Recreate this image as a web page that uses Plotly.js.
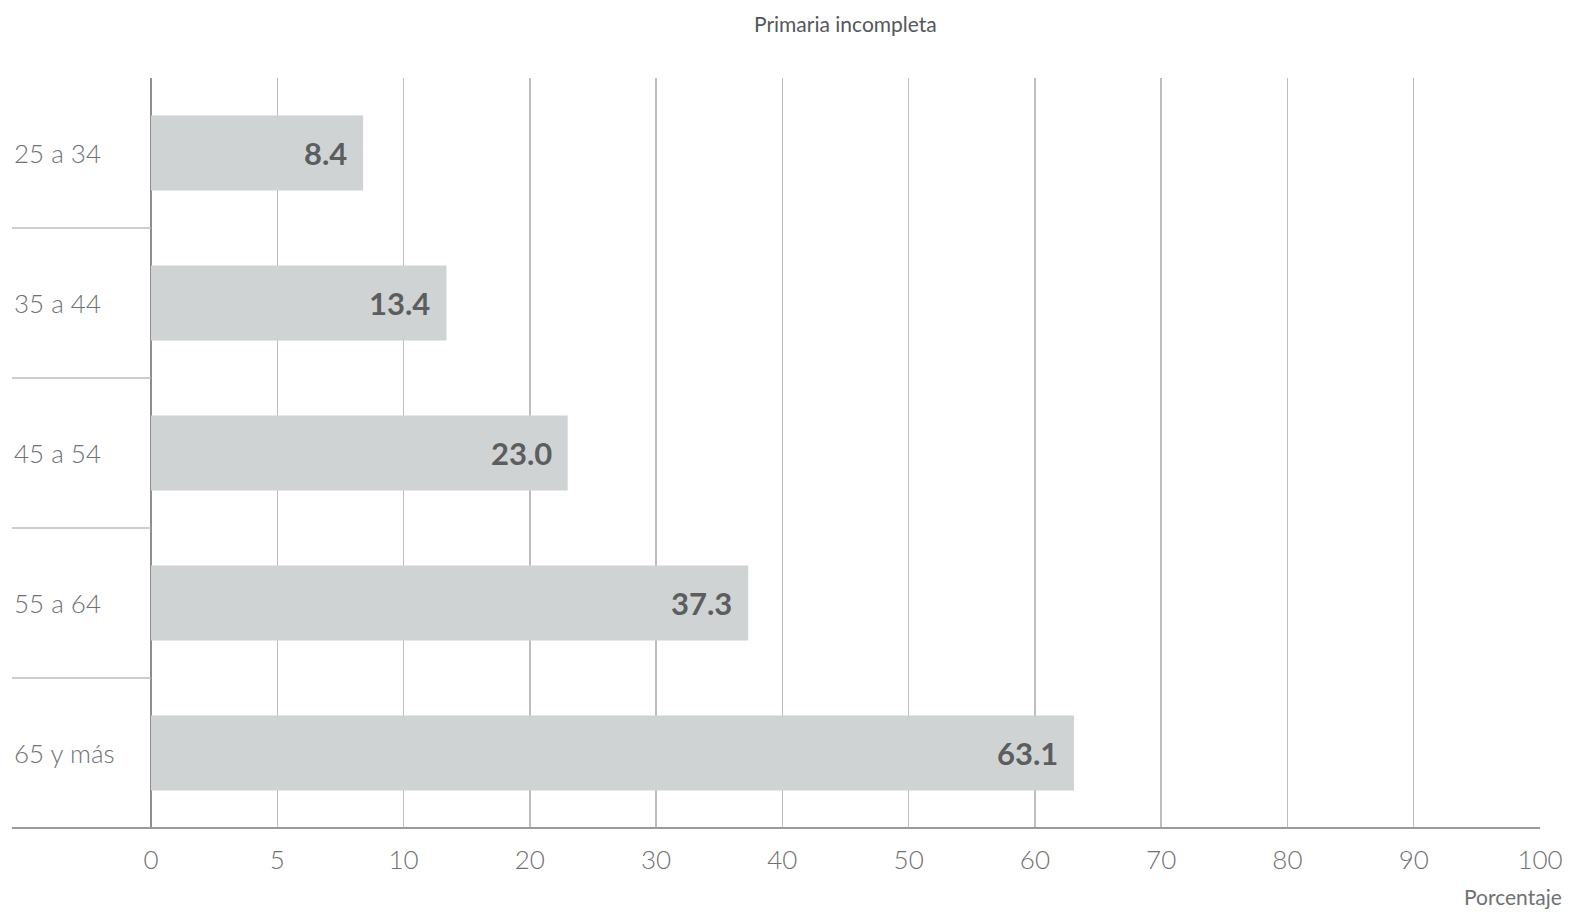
<!DOCTYPE html>
<html>
<head>
<meta charset="utf-8">
<script src="https://cdn.plot.ly/plotly-3.0.1.min.js"></script>
<style>
  html, body { margin: 0; padding: 0; background: #fff; overflow: hidden; }
  #chart { width: 1578px; height: 914px; }
</style>
</head>
<body>
<div id="chart"></div>
<script>
// ---- data ----
const categories = ["25 a 34", "35 a 44", "45 a 54", "55 a 64", "65 y más"];
const values = [8.4, 13.4, 23.0, 37.3, 63.1];
const tickValues = [0, 5, 10, 20, 30, 40, 50, 60, 70, 80, 90, 100];
const tickLabels = ["0", "5", "10", "20", "30", "40", "50", "60", "70", "80", "90", "100"];
const chartTitle = "Primaria incompleta";
const axisTitle = "Porcentaje";

// piecewise axis scale used by the original: 0-10 in steps of 5, then steps of 10
function scale(v) {
  return v <= 10 ? v / 5 : 2 + (v - 10) / 10;
}

const W = 1578, H = 914;
const margin = { l: 151, r: 38, t: 78, b: 86 };
const plotW = W - margin.l - margin.r;
const plotH = H - margin.t - margin.b;
const leftEdge = -(margin.l - 12) / plotW;

const textColor = "#6f7173";
const gridColor = "#bdbdbd";
const fontFam = "Lato, 'Open Sans', sans-serif";

const trace = {
  type: "bar",
  orientation: "h",
  y: categories,
  x: values.map(scale),
  marker: { color: "#d0d3d4", line: { width: 0 } },
  width: 0.5,
  hoverinfo: "skip"
};

const annotations = [];
categories.forEach((c, i) => {
  annotations.push({
    xref: "paper", yref: "y", x: leftEdge, y: c,
    xanchor: "left", yanchor: "middle",
    text: c, showarrow: false,
    font: { family: fontFam, size: 26, color: textColor, weight: 300 }
  });
  annotations.push({
    xref: "x", yref: "y", x: scale(values[i]), y: c,
    xanchor: "right", yanchor: "middle", xshift: -14,
    text: values[i].toFixed(1), showarrow: false,
    font: { family: fontFam, size: 31, color: "#5b5d5f", weight: 700 }
  });
});
annotations.push({
  xref: "paper", yref: "paper", x: 0.5, y: 1, yshift: 55,
  xanchor: "center", yanchor: "middle",
  text: chartTitle, showarrow: false,
  font: { family: fontFam, size: 21, color: "#555759", weight: 400 }
});
annotations.push({
  xref: "paper", yref: "paper", x: 1, xshift: 24, y: 0, yshift: -68,
  xanchor: "right", yanchor: "middle",
  text: axisTitle, showarrow: false,
  font: { family: fontFam, size: 21, color: textColor, weight: 400 }
});

const shapes = [];
for (let k = 0; k < categories.length - 1; k++) {
  shapes.push({
    type: "line", xref: "paper", yref: "y",
    x0: leftEdge, x1: 0, y0: k + 0.5, y1: k + 0.5,
    line: { color: gridColor, width: 1.5 }
  });
}
shapes.push({
  type: "line", xref: "paper", yref: "paper",
  x0: leftEdge, x1: 1, y0: 0, y1: 0,
  line: { color: "#9a9a9a", width: 2 }
});

const layout = {
  width: W, height: H,
  margin: margin,
  paper_bgcolor: "#ffffff",
  plot_bgcolor: "#ffffff",
  showlegend: false,
  bargap: 0.5,
  xaxis: {
    range: [0, scale(100)],
    tickmode: "array",
    tickvals: tickValues.map(scale),
    ticktext: tickLabels,
    showgrid: true,
    gridcolor: gridColor,
    gridwidth: 1.5,
    zeroline: true,
    zerolinecolor: "#8e8e8e",
    zerolinewidth: 2,
    showline: false,
    ticks: "",
    ticklabelstandoff: 14,
    tickfont: { family: fontFam, size: 26, color: textColor, weight: 300 },
    fixedrange: true
  },
  yaxis: {
    type: "category",
    autorange: "reversed",
    showticklabels: false,
    showgrid: false,
    zeroline: false,
    showline: false,
    ticks: "",
    fixedrange: true
  },
  annotations: annotations,
  shapes: shapes
};

Plotly.newPlot("chart", [trace], layout, { displayModeBar: false, staticPlot: true });
</script>
</body>
</html>
